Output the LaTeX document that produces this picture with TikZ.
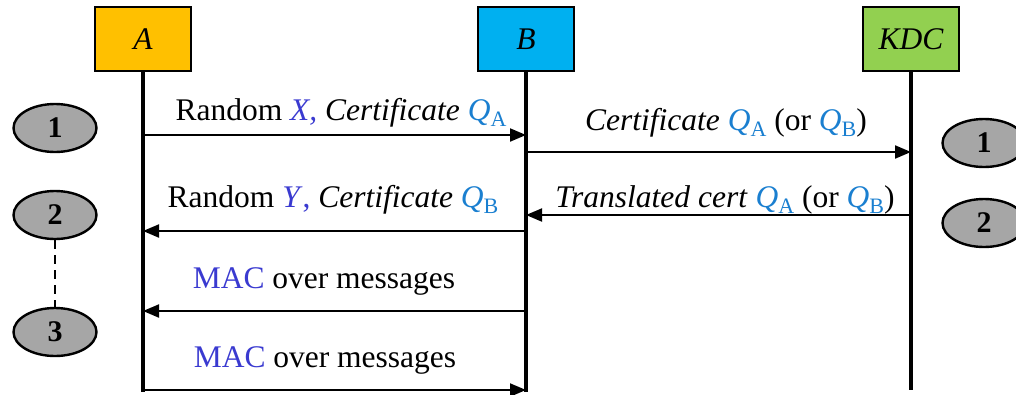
\documentclass[tikz,border=0pt]{standalone}
\usepackage{fontspec}
\setmainfont{Liberation Serif}
\usetikzlibrary{arrows.meta,shapes.geometric}
\definecolor{aorange}{HTML}{FFC000}
\definecolor{bblue}{HTML}{00B0F0}
\definecolor{kgreen}{HTML}{92D050}
\definecolor{xblue}{HTML}{3A3AD0}
\definecolor{qblue}{HTML}{1A7FD0}
\definecolor{ellgray}{HTML}{A6A6A6}
\newcommand\Qsub[1]{\textcolor{qblue}{\textit{Q}\raisebox{-0.22em}{\fontsize{22}{22}\selectfont #1}}}
\newcommand\bigfont{\fontsize{31.5}{38}\selectfont}
\tikzset{
  party/.style={draw=black, line width=2pt, minimum width=96pt, minimum height=64pt, inner sep=0pt, font=\bigfont\itshape},
  lifeline/.style={line width=3.2pt},
  msg/.style={line width=2pt, -{Triangle[length=16pt,width=13pt]}},
  lbl/.style={anchor=base, inner sep=0pt, font=\bigfont},
  stepell/.style={draw=black, line width=2.4pt, fill=ellgray, ellipse, minimum width=83pt, minimum height=48pt, inner sep=0pt, font=\fontsize{30}{30}\selectfont\bfseries},
}
\begin{document}
\begin{tikzpicture}[x=1pt,y=-1pt]
\useasboundingbox (0,0) rectangle (1016,394);
% parties
\node[party, fill=aorange] (A) at (143,39) {A};
\node[party, fill=bblue] (B) at (526,39) {B};
\node[party, fill=kgreen] (K) at (911,39) {KDC};
% lifeline ends
\coordinate (Aend) at (143,392);
\coordinate (Bend) at (526,392);
\coordinate (Kend) at (911,390);
\draw[lifeline] (A.south) -- (Aend);
\draw[lifeline] (B.south) -- (Bend);
\draw[lifeline] (K.south) -- (Kend);
% message points
\coordinate (a1) at (143,135); \coordinate (b1) at (526,135);
\coordinate (b2) at (526,152); \coordinate (k2) at (911,152);
\coordinate (k3) at (911,215); \coordinate (b3) at (526,215);
\coordinate (b4) at (526,231); \coordinate (a4) at (143,231);
\coordinate (b5) at (526,311); \coordinate (a5) at (143,311);
\coordinate (a6) at (143,390); \coordinate (b6) at (526,390);
\draw[msg] (a1) -- (b1);
\draw[msg] (b2) -- (k2);
\draw[msg] (k3) -- (b3);
\draw[msg] (b4) -- (a4);
\draw[msg] (b5) -- (a5);
\draw[msg] (a6) -- (b6);
% labels
\node[lbl] (l1) at (341,120) {Random \textcolor{xblue}{\textit{X,}} \textit{Certificate} \Qsub{A}};
\node[lbl] (l2) at (726,130) {\textit{Certificate} \Qsub{A} (or \Qsub{B})};
\node[lbl] (l3) at (725,207) {\textit{Translated cert} \Qsub{A} (or \Qsub{B})};
\node[lbl] (l4) at (333,207) {Random \textcolor{xblue}{\textit{Y}}\textcolor{xblue}{,} \textit{Certificate} \Qsub{B}};
\node[lbl] (l5) at (324,288) {\textcolor{xblue}{MAC} over messages};
\node[lbl] (l6) at (325,367) {\textcolor{xblue}{MAC} over messages};
% step ellipses
\node[stepell] (e1) at (55,128) {1};
\node[stepell] (e2) at (55,215) {2};
\node[stepell] (e3) at (55,332) {3};
\node[stepell] (r1) at (984,143) {1};
\node[stepell] (r2) at (984,223) {2};
\draw[line width=2.4pt, dash pattern=on 9pt off 6pt] (e2.south) -- (e3.north);
\end{tikzpicture}
\end{document}
